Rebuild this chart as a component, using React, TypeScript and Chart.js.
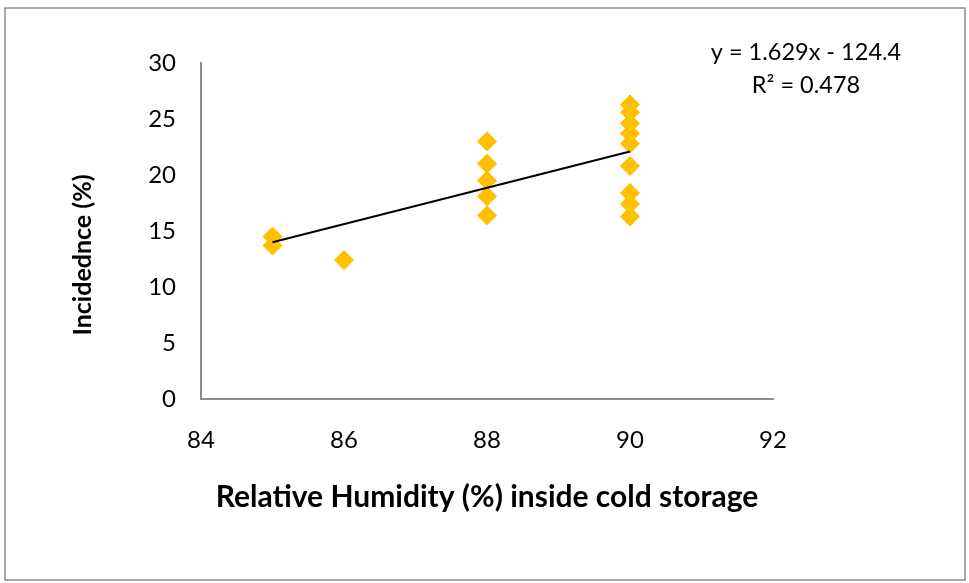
import React, { useEffect, useRef } from "react";
import { Chart, registerables } from "chart.js";

Chart.register(...registerables);

const rhValues = [85, 85, 86, 88, 88, 88, 88, 88, 90, 90, 90, 90, 90, 90, 90, 90, 90];
const incidenceValues = [14.5, 13.7, 12.4, 23.0, 21.0, 19.5, 18.1, 16.4, 26.3, 25.6, 24.6, 23.7, 22.8, 20.8, 18.4, 17.4, 16.3];
const trendX = [85, 90];
const trendY = [14.0, 22.1];
const equationLines = ["y = 1.629x - 124.4", "R² = 0.478"];
const xTitle = "Relative Humidity (%) inside cold storage";
const yTitle = "Incidednce (%)";

const FONT = "Lato, 'Open Sans', sans-serif";

export default function App() {
  const ref = useRef<HTMLCanvasElement | null>(null);

  useEffect(() => {
    if (!ref.current) return;
    const framePlugin = {
      id: "frame",
      beforeDraw(chart: any) {
        const ctx = chart.ctx;
        ctx.save();
        ctx.fillStyle = "#ffffff";
        ctx.fillRect(0, 0, chart.width, chart.height);
        ctx.strokeStyle = "#8c8c8c";
        ctx.lineWidth = 1.5;
        ctx.strokeRect(5, 8, 960, 572);
        ctx.restore();
      },
      afterDraw(chart: any) {
        const ctx = chart.ctx;
        const area = chart.chartArea;
        ctx.save();
        ctx.fillStyle = "#000000";
        ctx.font = `23.5px ${FONT}`;
        ctx.textAlign = "center";
        ctx.textBaseline = "middle";
        ctx.fillText(equationLines[0], 806, 52);
        ctx.fillText(equationLines[1], 806, 85);
        // y axis title
        ctx.font = `bold 25px ${FONT}`;
        ctx.translate(83, (area.top + area.bottom) / 2 + 24);
        ctx.rotate(-Math.PI / 2);
        ctx.fillText(yTitle, 0, 0);
        ctx.restore();
      },
    };

    const chart = new Chart(ref.current, {
      type: "scatter",
      data: {
        datasets: [
          {
            label: "Incidence",
            data: rhValues.map((x, i) => ({ x, y: incidenceValues[i] })),
            backgroundColor: "#FFC000",
            borderColor: "#FFC000",
            borderWidth: 1,
            pointStyle: "rectRot",
            pointRadius: 9.5,
            order: 2,
          },
          {
            type: "line",
            label: "Trend",
            data: trendX.map((x, i) => ({ x, y: trendY[i] })),
            borderColor: "#000000",
            borderWidth: 2,
            pointRadius: 0,
            fill: false,
            order: 1,
          } as any,
        ],
      },
      plugins: [framePlugin],
      options: {
        responsive: false,
        animation: false,
        layout: { padding: { left: 0, top: 63, right: 196, bottom: 0 } },
        plugins: {
          legend: { display: false },
          tooltip: { enabled: false },
        },
        scales: {
          x: {
            type: "linear",
            min: 84,
            max: 92,
            ticks: { stepSize: 2, color: "#000", font: { family: FONT, size: 24 }, padding: 27 },
            grid: { display: false, drawTicks: false },
            border: { color: "#8c8c8c", width: 2 },
            title: {
              display: true,
              text: xTitle,
              color: "#000",
              font: { family: FONT, size: 30, weight: "bold" },
              padding: { top: 0, bottom: 68 },
            },
            afterFit: (s: any) => {
              s.height = 184;
            },
          },
          y: {
            type: "linear",
            min: 0,
            max: 30,
            ticks: { stepSize: 5, color: "#000", font: { family: FONT, size: 24 }, padding: 25 },
            grid: { display: false, drawTicks: false },
            border: { color: "#8c8c8c", width: 2 },
            title: { display: false },
            afterFit: (s: any) => {
              s.width = 201;
            },
          },
        },
      } as any,
    });
    return () => chart.destroy();
  }, []);

  return (
    <div style={{ position: "fixed", left: 0, top: 0, width: 969, height: 583, background: "#fff" }}>
      <canvas ref={ref} width={969} height={583} style={{ display: "block", width: 969, height: 583 }} />
    </div>
  );
}
